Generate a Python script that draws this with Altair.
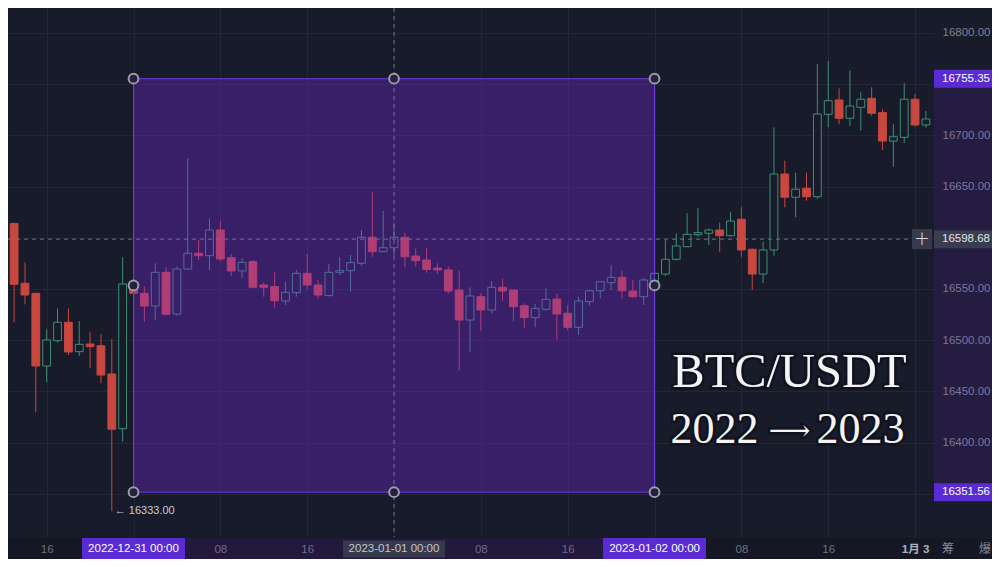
import altair as alt
import pandas as pd

# ---------------- data: 1h candles, hour offsets from 2022-12-31 00:00 ----------------
hours = list(range(-11, 74))
opens = [16614.0, 16555.6, 16545.8, 16474.8, 16499.5, 16517.5, 16488.8, 16496.3, 16494.6, 16467.0,
         16413.6, 16550.7, 16545.8, 16533.4, 16566.3, 16525.5, 16569.5, 16584.9, 16582.5, 16607.6,
         16580.6, 16567.6, 16576.7, 16553.9, 16552.3, 16538.3, 16546.4, 16565.3, 16553.9, 16543.5,
         16566.3, 16567.9, 16575.1, 16600.5, 16586.4, 16590.3, 16600.5, 16582.2, 16578.3, 16570.5,
         16568.6, 16549.0, 16519.7, 16542.5, 16529.5, 16551.7, 16549.0, 16533.7, 16522.0, 16530.2,
         16540.2, 16526.3, 16512.6, 16537.6, 16548.3, 16556.2, 16561.4, 16548.0, 16542.5, 16557.8,
         16564.6, 16579.0, 16591.3, 16603.0, 16604.4, 16607.6, 16602.1, 16618.1, 16588.8, 16564.6,
         16588.1, 16662.3, 16639.6, 16648.3, 16640.1, 16720.6, 16734.6, 16716.7, 16727.4, 16736.2,
         16722.2, 16694.5, 16698.1, 16735.3, 16710.2]
highs = [16615.0, 16575.7, 16546.5, 16510.6, 16531.1, 16531.0, 16518.8, 16508.3, 16506.0, 16500.9,
         16581.0, 16556.0, 16552.3, 16575.1, 16571.2, 16572.0, 16677.6, 16597.9, 16619.0, 16616.7,
         16584.0, 16580.0, 16578.0, 16556.2, 16566.9, 16557.1, 16568.6, 16584.2, 16558.8, 16574.4,
         16581.0, 16583.2, 16607.6, 16644.4, 16626.2, 16614.2, 16605.0, 16589.7, 16590.3, 16575.1,
         16571.8, 16567.9, 16551.7, 16546.0, 16557.8, 16560.1, 16549.5, 16536.0, 16535.4, 16550.7,
         16545.1, 16534.4, 16542.5, 16548.5, 16557.5, 16573.4, 16567.9, 16558.8, 16560.5, 16568.0,
         16597.9, 16604.4, 16623.9, 16628.8, 16609.0, 16614.7, 16625.5, 16629.8, 16589.5, 16596.2,
         16707.9, 16675.3, 16663.6, 16663.6, 16769.7, 16772.7, 16746.0, 16763.2, 16742.1, 16747.0,
         16725.5, 16711.1, 16750.9, 16740.4, 16723.8]
lows = [16517.5, 16535.0, 16429.6, 16458.9, 16497.6, 16485.5, 16484.6, 16472.6, 16457.9, 16333.0,
        16400.9, 16540.0, 16518.1, 16519.7, 16524.5, 16524.0, 16568.5, 16578.3, 16568.5, 16577.0,
        16562.7, 16560.4, 16550.7, 16542.5, 16531.8, 16534.4, 16542.5, 16549.7, 16540.2, 16543.0,
        16563.7, 16547.4, 16572.8, 16581.5, 16586.0, 16581.5, 16571.2, 16571.8, 16565.9, 16564.6,
        16545.1, 16470.2, 16488.2, 16509.0, 16526.0, 16538.6, 16518.7, 16512.2, 16512.6, 16529.0,
        16500.2, 16509.3, 16505.1, 16533.7, 16540.9, 16549.0, 16539.9, 16541.5, 16534.4, 16555.0,
        16562.7, 16578.0, 16591.0, 16601.1, 16593.0, 16586.4, 16601.0, 16581.5, 16549.0, 16555.6,
        16582.5, 16629.8, 16620.0, 16636.2, 16638.0, 16707.9, 16711.1, 16709.2, 16704.6, 16719.2,
        16685.7, 16669.4, 16692.9, 16708.5, 16707.5]
closes = [16554.6, 16544.1, 16474.8, 16500.2, 16517.5, 16488.5, 16496.0, 16493.7, 16466.0, 16413.0,
          16554.9, 16545.8, 16533.4, 16566.3, 16525.3, 16569.5, 16584.9, 16582.5, 16607.6, 16579.3,
          16567.6, 16576.0, 16551.7, 16551.7, 16538.6, 16546.8, 16565.3, 16553.9, 16544.1, 16566.3,
          16567.9, 16575.7, 16600.5, 16586.4, 16590.3, 16600.5, 16581.5, 16577.6, 16569.2, 16568.6,
          16548.0, 16519.7, 16543.2, 16529.5, 16551.7, 16548.0, 16532.7, 16522.0, 16531.1, 16539.9,
          16525.6, 16512.6, 16538.3, 16548.3, 16557.1, 16561.4, 16548.3, 16542.5, 16558.8, 16565.3,
          16579.0, 16592.0, 16603.4, 16605.0, 16607.6, 16602.1, 16616.4, 16588.1, 16564.6, 16588.1,
          16662.3, 16639.6, 16647.4, 16640.1, 16720.9, 16733.9, 16716.7, 16728.7, 16735.3, 16721.6,
          16694.5, 16698.7, 16735.3, 16710.2, 16716.0]

# selection rectangle, crosshair, low marker
sel_hours = [0, 48]
sel_prices = [16351.56, 16755.35]
cross_hour = 24
cross_price = 16598.68
low_hour = -2
low_price = 16333.00

# axes
price_ticks = list(range(16350, 16801, 50))
hidden_price_labels = [16350, 16600, 16750]   # covered by the marker boxes
time_ticks = list(range(-8, 73, 8))
time_box_hours = [0, 24, 48]
time_box_labels = ["2022-12-31 00:00", "2023-01-01 00:00", "2023-01-02 00:00"]
title_line1 = "BTC/USDT"
title_line2 = ["2022", "⟶", "2023"]
corner_icons = ["筹", "爆"]

# ---------------- styling ----------------
BG = "#181b2a"
GRID = "#222636"
GREEN = "#3d8f73"
RED = "#c8473f"
PURPLE = "#8128e8"
PURPLE_EDGE = "#6b3be2"
LABEL_BOX = "#5a2bd3"
GRAY_BOX = "#373a4d"
AXIS_TXT = "#7d8191"
FONT = "Liberation Sans, Noto Sans CJK SC, sans-serif"
SERIF = "Liberation Serif, DejaVu Serif"

xs = alt.Scale(domain=[-11.562, 73.745], nice=False, zero=False)
ys = alt.Scale(domain=[16307.81, 16824.41], nice=False, zero=False)

hidden_test = " || ".join(f"datum.value == {v}" for v in hidden_price_labels)

x_axis = alt.Axis(
    values=time_ticks,
    labelExpr="datum.value == 72 ? '1月 3' : (datum.value == -8 ? '16' : (datum.value % 24 == 8 ? '08' : (datum.value % 24 == 16 ? '16' : '')))",
    grid=True, gridColor=GRID, gridWidth=1, ticks=False, tickSize=0, domain=False,
    labelColor={"condition": {"test": "datum.value == 72", "value": "#c6c9d4"}, "value": AXIS_TXT},
    labelFontWeight={"condition": {"test": "datum.value == 72", "value": "bold"}, "value": "normal"},
    labelFont=FONT, labelFontSize=11.5, labelPadding=12, labelBaseline="middle",
    labelFlush=False, labelOverlap=False, zindex=0, title=None,
)
y_axis = alt.Axis(
    orient="right", values=price_ticks,
    labelExpr=f"({hidden_test}) ? '' : format(datum.value, '.2f')",
    grid=True, gridColor=GRID, gridWidth=1, ticks=False, tickSize=0, domain=False,
    labelAlign="left", labelBaseline="middle", labelPadding=8,
    labelColor=AXIS_TXT, labelFont=FONT, labelFontSize=11.5,
    labelFlush=False, labelOverlap=False, zindex=0, title=None,
)


def X(f):
    return alt.X(f, scale=xs, axis=x_axis, title=None)


def Y(f):
    return alt.Y(f, scale=ys, axis=y_axis, title=None)


candles = pd.DataFrame({"h": hours, "o": opens, "hi": highs, "lo": lows, "c": closes})
up = alt.datum.c >= alt.datum.o

wicks = alt.Chart(candles).mark_rule(strokeWidth=1, clip=True).encode(
    x=X("h:Q"), y=Y("lo:Q"), y2="hi:Q",
    color=alt.condition(up, alt.value(GREEN), alt.value(RED)),
)

bodies = alt.Chart(candles).transform_calculate(
    x0="datum.h - 0.36", x1="datum.h + 0.36",
    b0="min(datum.o, datum.c)", b1="max(datum.o, datum.c)",
).mark_rect(strokeWidth=1, clip=True).encode(
    x=X("x0:Q"), x2="x1:Q",
    y=Y("b0:Q"), y2="b1:Q",
    fill=alt.condition(up, alt.value(BG), alt.value(RED)),
    stroke=alt.condition(up, alt.value(GREEN), alt.value(RED)),
)

sel_df = pd.DataFrame({"h0": [sel_hours[0]], "h1": [sel_hours[1]],
                       "p0": [sel_prices[0]], "p1": [sel_prices[1]]})

overlay = alt.Chart(sel_df).mark_rect(
    fill=PURPLE, fillOpacity=0.32, stroke=PURPLE_EDGE, strokeWidth=1, strokeOpacity=1
).encode(x=X("h0:Q"), x2="h1:Q", y=Y("p0:Q"), y2="p1:Q")

# darker time-axis strip
axis_strip = alt.Chart(sel_df).mark_rect(fill="#000000", fillOpacity=0.12).encode(
    x=alt.value(0), x2=alt.value(984), y=alt.value(529.5), y2=alt.value(552))

price_band = alt.Chart(sel_df).mark_rect(fill=PURPLE, fillOpacity=0.13).encode(
    x=alt.value(926), x2=alt.value(984), y=Y("p0:Q"), y2="p1:Q")

time_band = alt.Chart(sel_df).mark_rect(fill=PURPLE, fillOpacity=0.13).encode(
    x=X("h0:Q"), x2="h1:Q", y=alt.value(530), y2=alt.value(552))

cross_df = pd.DataFrame({"h": [cross_hour], "p": [cross_price]})
cross_v = alt.Chart(cross_df).mark_rule(stroke="#6f7284", strokeDash=[4, 4], strokeWidth=1).encode(
    x=X("h:Q"), y=alt.value(0), y2=alt.value(529))
cross_h = alt.Chart(cross_df).mark_rule(stroke="#6f7284", strokeDash=[4, 4], strokeWidth=1).encode(
    y=Y("p:Q"), x=alt.value(0), x2=alt.value(904))
plus_box = alt.Chart(cross_df).mark_rule(stroke=GRAY_BOX, strokeWidth=20, strokeCap="butt").encode(
    y=Y("p:Q"), x=alt.value(904), x2=alt.value(924))
plus_txt = alt.Chart(cross_df).mark_text(
    text="+", font="DejaVu Sans", fontSize=19, fontWeight=300, color="#d6d7df",
    align="center", baseline="middle").encode(x=alt.value(914), y=Y("p:Q"))

mid_price = (sel_prices[0] + sel_prices[1]) / 2
handles_df = pd.DataFrame({
    "h": [sel_hours[0], cross_hour, sel_hours[1], sel_hours[0], sel_hours[1], sel_hours[0], cross_hour, sel_hours[1]],
    "p": [sel_prices[1]] * 3 + [mid_price] * 2 + [sel_prices[0]] * 3,
})
handles = alt.Chart(handles_df).mark_point(
    shape="circle", filled=True, color="#272140", stroke="#9c9ca9", strokeWidth=2,
    size=95, opacity=1, fillOpacity=1, strokeOpacity=1
).encode(x=X("h:Q"), y=Y("p:Q"))

low_df = pd.DataFrame({"h": [low_hour], "p": [low_price], "txt": [f"← {low_price:.2f}"]})
low_txt = alt.Chart(low_df).mark_text(
    align="left", baseline="middle", dx=3, font=FONT, fontSize=11, color="#c9ccd6"
).encode(x=X("h:Q"), y=Y("p:Q"), text="txt:N")

pbox_df = pd.DataFrame({
    "p": [sel_prices[1], sel_prices[0], cross_price],
    "txt": [f"{v:.2f}" for v in [sel_prices[1], sel_prices[0], cross_price]],
    "bg": [LABEL_BOX, LABEL_BOX, "#3a3c50"],
    "fg": ["#ffffff", "#ffffff", "#e2e3ea"],
})
pbox = alt.Chart(pbox_df).mark_rule(strokeWidth=18, strokeCap="butt").encode(
    y=Y("p:Q"), x=alt.value(926), x2=alt.value(984), color=alt.Color("bg:N", scale=None))
pbox_txt = alt.Chart(pbox_df).mark_text(
    align="left", baseline="middle", font=FONT, fontSize=11.5
).encode(y=Y("p:Q"), x=alt.value(934), text="txt:N", color=alt.Color("fg:N", scale=None))

tsel_df = pd.DataFrame({"h": [time_box_hours[0], time_box_hours[2]],
                        "txt": [time_box_labels[0], time_box_labels[2]]})
tcross_df = pd.DataFrame({"h": [time_box_hours[1]], "txt": [time_box_labels[1]]})
tsel_box = alt.Chart(tsel_df).mark_rule(stroke=LABEL_BOX, strokeWidth=103, strokeCap="butt").encode(
    x=X("h:Q"), y=alt.value(530), y2=alt.value(552))
tcross_box = alt.Chart(tcross_df).mark_rule(stroke=GRAY_BOX, strokeWidth=102, strokeCap="butt").encode(
    x=X("h:Q"), y=alt.value(532.5), y2=alt.value(549.5))
tsel_txt = alt.Chart(tsel_df).mark_text(
    align="center", baseline="middle", font=FONT, fontSize=11.5, color="#ffffff"
).encode(x=X("h:Q"), y=alt.value(541), text="txt:N")
tcross_txt = alt.Chart(tcross_df).mark_text(
    align="center", baseline="middle", font=FONT, fontSize=11.5, color="#c4c6d2"
).encode(x=X("h:Q"), y=alt.value(541), text="txt:N")

icon1 = alt.Chart(cross_df).mark_text(
    text=corner_icons[0], align="center", baseline="middle", font="Noto Sans CJK SC",
    fontSize=12, color="#858895").encode(x=alt.value(940), y=alt.value(541))
icon2 = alt.Chart(cross_df).mark_text(
    text=corner_icons[1], align="center", baseline="middle", font="Noto Sans CJK SC",
    fontSize=12, color="#858895").encode(x=alt.value(977), y=alt.value(541))


def title_text(txt, size, xpix, ypix, align):
    halo = alt.Chart(cross_df).mark_text(
        text=txt, align=align, baseline="alphabetic", font=SERIF,
        fontSize=size, color="#0b0d15", stroke="#0b0d15", strokeWidth=5, strokeOpacity=0.7, opacity=0.8
    ).encode(x=alt.value(xpix), y=alt.value(ypix))
    main = alt.Chart(cross_df).mark_text(
        text=txt, align=align, baseline="alphabetic", font=SERIF,
        fontSize=size, color="#f4f4f6"
    ).encode(x=alt.value(xpix), y=alt.value(ypix))
    return [halo, main]


chart = alt.layer(
    wicks, bodies, overlay, axis_strip, price_band, time_band,
    cross_v, cross_h, plus_box, plus_txt,
    handles, low_txt,
    pbox, pbox_txt,
    tsel_box, tcross_box, tsel_txt, tcross_txt, icon1, icon2,
    *title_text(title_line1, 48.5, 781.5, 378.5, "center"),
    *title_text(title_line2[0], 44, 750.5, 435, "right"),
    *title_text(title_line2[1], 29, 781.5, 432, "center"),
    *title_text(title_line2[2], 44, 808.5, 435, "left"),
).properties(
    width=926, height=529,
    autosize=alt.AutoSizeParams(type="none"),
    padding={"left": 0, "top": 0, "right": 58, "bottom": 22},
    background=BG,
).configure_view(stroke=None)

chart.save("out.html", embed_options={"renderer": "svg", "actions": False})
